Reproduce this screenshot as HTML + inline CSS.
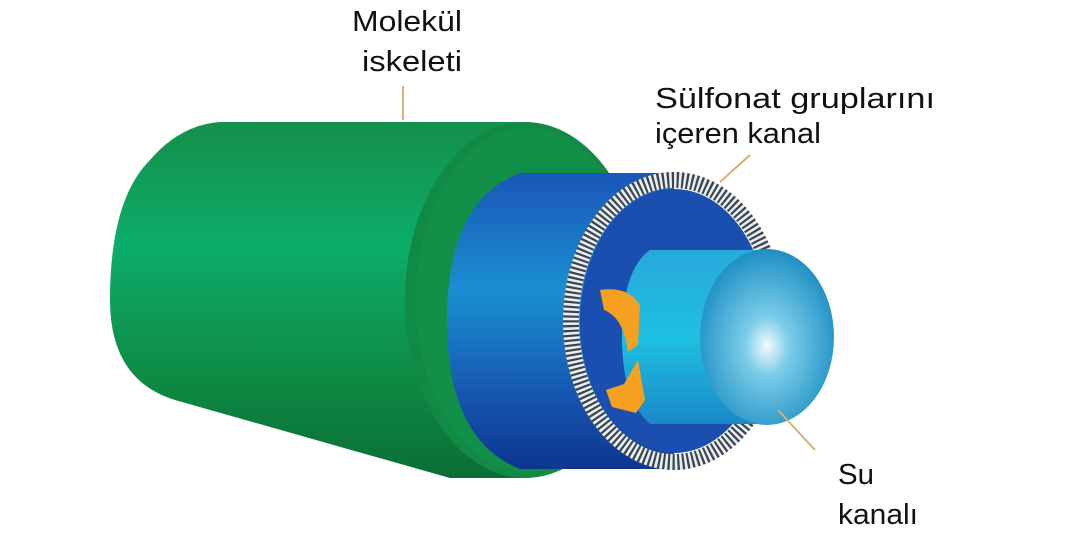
<!DOCTYPE html>
<html><head><meta charset="utf-8"><style>
html,body{margin:0;padding:0;background:#fff;width:1068px;height:541px;overflow:hidden}
svg{display:block}
text{font-family:"Liberation Sans",sans-serif;font-size:29px;fill:#111}
</style></head><body>
<svg width="1068" height="541" viewBox="0 0 1068 541">
<defs>
<linearGradient id="gb" x1="0" y1="0" x2="0" y2="1">
<stop offset="0" stop-color="#14904a"/><stop offset="0.35" stop-color="#0bad6a"/><stop offset="0.7" stop-color="#0e8c45"/><stop offset="1" stop-color="#0a6e35"/>
</linearGradient>
<linearGradient id="bb" x1="0" y1="0" x2="0" y2="1">
<stop offset="0" stop-color="#1a56b8"/><stop offset="0.4" stop-color="#1a8fd0"/><stop offset="0.75" stop-color="#1656b0"/><stop offset="1" stop-color="#0d3690"/>
</linearGradient>
<linearGradient id="cb" x1="0" y1="0" x2="0" y2="1">
<stop offset="0" stop-color="#28a8dc"/><stop offset="0.5" stop-color="#1ec0e0"/><stop offset="1" stop-color="#1a88c8"/>
</linearGradient>
<radialGradient id="sp" cx="0.5" cy="0.55" r="0.55">
<stop offset="0" stop-color="#f4fbff"/><stop offset="0.3" stop-color="#7ccde8"/><stop offset="1" stop-color="#1d8fc4"/>
</radialGradient>
</defs>
<path d="M220,122 L530,122 L530,478 L450,478 L175,400 Q110,380 110,300 Q110,200 150,160 Q180,125 220,122 Z" fill="url(#gb)"/>
<ellipse cx="525" cy="300" rx="120" ry="178" fill="#118a45"/>
<ellipse cx="528" cy="300" rx="112" ry="172" fill="#139048"/>
<path d="M520,173 L674,173 L674,469 L520,469 Q447,440 447,321 Q447,200 520,173 Z" fill="url(#bb)"/>
<ellipse cx="674" cy="321" rx="103" ry="141" fill="none" stroke="#e8eef0" stroke-width="16"/>
<ellipse cx="674" cy="321" rx="103" ry="141" fill="none" stroke="#3a4450" stroke-width="16" stroke-dasharray="2.2 2.6"/>
<ellipse cx="674" cy="321" rx="94" ry="132" fill="#1a4fb0"/>
<path d="M650,250 L765,250 L765,424 L650,424 Q622,400 622,337 Q622,270 650,250 Z" fill="url(#cb)"/>
<ellipse cx="767" cy="337" rx="67" ry="88" fill="url(#sp)"/>
<path d="M600,290 Q628,286 640,305 L638,345 L628,352 Q624,318 604,310 Z" fill="#f5a020"/>
<path d="M638,360 L645,400 L636,413 L612,407 L606,390 L624,384 Z" fill="#f5a020"/>
<line x1="403" y1="86" x2="403" y2="120" stroke="#d8b070" stroke-width="2"/>
<line x1="720" y1="182" x2="750" y2="155" stroke="#d8b070" stroke-width="2"/>
<line x1="778" y1="410" x2="815" y2="450" stroke="#d8b070" stroke-width="2"/>
<text x="352" y="31" textLength="110" lengthAdjust="spacingAndGlyphs">Molekül</text>
<text x="362" y="71" textLength="100" lengthAdjust="spacingAndGlyphs">iskeleti</text>
<text x="655" y="108" textLength="280" lengthAdjust="spacingAndGlyphs">Sülfonat gruplarını</text>
<text x="655" y="143" textLength="166" lengthAdjust="spacingAndGlyphs">içeren kanal</text>
<text x="838" y="484" textLength="36" lengthAdjust="spacingAndGlyphs">Su</text>
<text x="838" y="524" textLength="80" lengthAdjust="spacingAndGlyphs">kanalı</text>
</svg>
</body></html>
